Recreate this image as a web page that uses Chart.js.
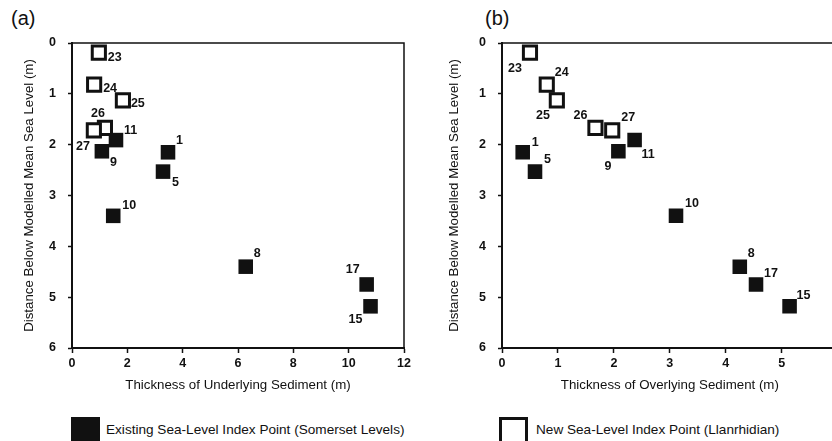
<!DOCTYPE html>
<html>
<head>
<meta charset="utf-8">
<script src="https://cdn.jsdelivr.net/npm/chart.js@4"></script>
<style>
  html, body { margin: 0; padding: 0; background: #fff; overflow: hidden; }
  body { width: 832px; height: 441px; position: relative; font-family: "Liberation Sans", Arial, sans-serif; color: #111; }
  .panel { position: absolute; top: 0; height: 400px; }
  .tag { position: absolute; top: 7px; font-size: 20px; }
  .key { position: absolute; top: 417px; width: 29px; height: 30px; box-sizing: border-box; }
  .key-text { position: absolute; top: 422px; font-size: 13.6px; white-space: nowrap; }
</style>
</head>
<body>
<div class="tag" style="left:11px">(a)</div>
<div class="tag" style="left:485px">(b)</div>
<div class="panel" style="left:0;width:420px"><canvas id="chartA"></canvas></div>
<div class="panel" style="left:420px;width:430px"><canvas id="chartB"></canvas></div>

<div class="key" style="left:71px;background:#111"></div>
<div class="key-text" style="left:106px">Existing Sea-Level Index Point (Somerset Levels)</div>
<div class="key" style="left:499px;border:3px solid #111;border-bottom:none"></div>
<div class="key-text" style="left:536px">New Sea-Level Index Point (Llanrhidian)</div>

<script>
// sample numbers
const existingIds = [1, 5, 8, 9, 10, 11, 15, 17];
const newIds = [23, 24, 25, 26, 27];

// distance below modelled mean sea level (m)
const existingDepth = [2.15, 2.53, 4.40, 2.13, 3.40, 1.91, 5.18, 4.75];
const newDepth = [0.19, 0.82, 1.13, 1.67, 1.72];

// (a) thickness of underlying sediment (m)
const existingUnder = [3.47, 3.29, 6.28, 1.08, 1.49, 1.59, 10.79, 10.65];
const newUnder = [0.97, 0.80, 1.84, 1.19, 0.79];

// (b) thickness of overlying sediment (m)
const existingOver = [0.37, 0.59, 4.25, 2.08, 3.11, 2.37, 5.14, 4.54];
const newOver = [0.50, 0.80, 0.98, 1.67, 1.97];

// label placement [dx, dy, align] per sample
const labelPosA = {
  23: [9, 5, 'left'], 24: [9, 4, 'left'], 25: [8, 3, 'left'], 26: [-7, -14, 'center'],
  27: [-4, 16, 'right'], 11: [8, -10, 'left'], 9: [8, 11, 'left'], 1: [8, -12, 'left'],
  5: [9, 11, 'left'], 10: [9, -10, 'left'], 8: [8, -13, 'left'], 17: [-7, -15, 'right'],
  15: [-8, 13, 'right']
};
const labelPosB = {
  23: [-8, 16, 'right'], 24: [8, -12, 'left'], 25: [-7, 15, 'right'], 26: [-8, -12, 'right'],
  27: [9, -13, 'left'], 1: [9, -10, 'left'], 5: [9, -12, 'left'], 9: [-7, 15, 'right'],
  11: [7, 14, 'left'], 10: [9, -12, 'left'], 8: [8, -13, 'left'], 17: [8, -11, 'left'],
  15: [7, -11, 'left']
};

const ink = '#111';
const tickFont = {family: '"Liberation Sans", Arial, sans-serif', size: 12.5, weight: 'bold'};
const titleFont = {family: '"Liberation Sans", Arial, sans-serif', size: 13.3};

const pointLabels = {
  id: 'pointLabels',
  afterDatasetsDraw(chart, args, opts) {
    const ctx = chart.ctx;
    ctx.save();
    ctx.fillStyle = ink;
    ctx.font = 'bold 12.5px "Liberation Sans", Arial, sans-serif';
    ctx.textBaseline = 'middle';
    chart.data.datasets.forEach((ds, di) => {
      chart.getDatasetMeta(di).data.forEach((pt, i) => {
        const id = ds.ids[i];
        const [dx, dy, align] = opts.pos[id];
        ctx.textAlign = align;
        ctx.fillText(String(id), pt.x + dx, pt.y + dy);
      });
    });
    ctx.restore();
  }
};

const frame = {
  id: 'frame',
  beforeDatasetsDraw(chart) {
    const {ctx, chartArea: a} = chart;
    ctx.save();
    ctx.strokeStyle = ink;
    ctx.lineWidth = 1.5;
    ctx.beginPath();
    ctx.moveTo(a.left, a.top);
    ctx.lineTo(a.right, a.top);
    ctx.lineTo(a.right, a.bottom);
    ctx.stroke();
    ctx.restore();
  }
};

function makeChart(el, xNew, xExisting, xMax, xStep, xTitle, yWidth, yTitlePad, padRight, pos) {
  return new Chart(document.getElementById(el), {
    type: 'scatter',
    data: {
      datasets: [
        {
          label: 'New Sea-Level Index Point (Llanrhidian)',
          ids: newIds,
          data: newIds.map((_, i) => ({x: xNew[i], y: newDepth[i]})),
          pointStyle: 'rect',
          pointRadius: 9.3,
          pointHoverRadius: 9.3,
          backgroundColor: '#fff',
          borderColor: ink,
          borderWidth: 3
        },
        {
          label: 'Existing Sea-Level Index Point (Somerset Levels)',
          ids: existingIds,
          data: existingIds.map((_, i) => ({x: xExisting[i], y: existingDepth[i]})),
          pointStyle: 'rect',
          pointRadius: 10.3,
          pointHoverRadius: 10.3,
          backgroundColor: ink,
          borderColor: ink,
          borderWidth: 0
        }
      ]
    },
    options: {
      responsive: true,
      maintainAspectRatio: false,
      animation: false,
      layout: {padding: {top: 43, right: padRight, left: 0, bottom: 0}},
      plugins: {
        legend: {display: false},
        tooltip: {enabled: false},
        pointLabels: {pos: pos}
      },
      scales: {
        x: {
          type: 'linear',
          min: 0,
          max: xMax,
          afterFit: s => { s.height = 52; },
          ticks: {stepSize: xStep, color: ink, font: tickFont, padding: 3, autoSkip: false},
          grid: {drawOnChartArea: false, drawTicks: true, tickLength: 5, tickColor: ink, tickWidth: 1.5},
          border: {display: true, color: ink, width: 2},
          title: {display: true, text: xTitle, color: ink, font: titleFont, padding: {top: 0, bottom: 7}}
        },
        y: {
          type: 'linear',
          reverse: true,
          min: 0,
          max: 6,
          afterFit: s => { s.width = yWidth; },
          ticks: {stepSize: 1, color: ink, font: tickFont, padding: 12},
          grid: {drawOnChartArea: false, drawTicks: true, tickLength: 4, tickColor: ink, tickWidth: 1.5},
          border: {display: true, color: ink, width: 2},
          title: {display: true, text: 'Distance Below Modelled Mean Sea Level (m)', color: ink, font: titleFont, padding: {top: yTitlePad, bottom: 0}}
        }
      }
    },
    plugins: [frame, pointLabels]
  });
}

makeChart('chartA', newUnder, existingUnder, 12, 2, 'Thickness of Underlying Sediment (m)', 72, 21, 16, labelPosA);
makeChart('chartB', newOver, existingOver, 6, 1, 'Thickness of Overlying Sediment (m)', 82, 26, 12, labelPosB);
</script>
</body>
</html>
